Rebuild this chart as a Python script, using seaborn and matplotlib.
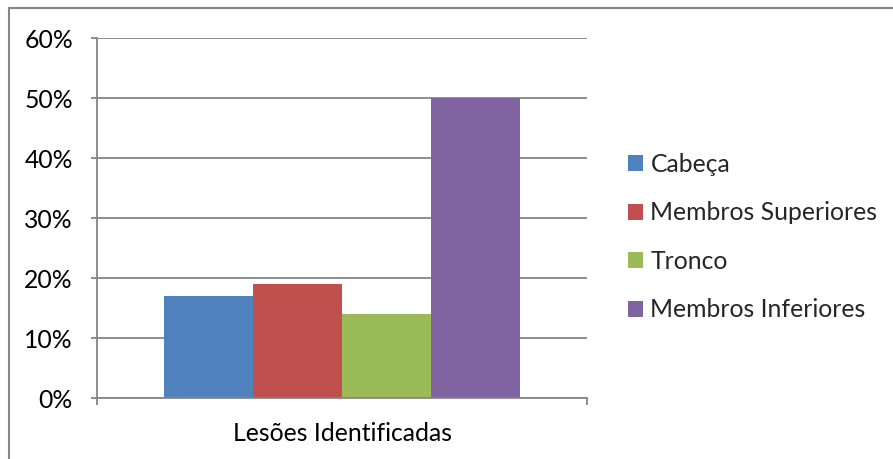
import matplotlib
matplotlib.use("Agg")
import matplotlib.pyplot as plt
from matplotlib.lines import Line2D
from matplotlib.ticker import FixedLocator, PercentFormatter
import seaborn as sns
import pandas as pd

# Data
group_label = "Lesões Identificadas"
regions = ["Cabeça", "Membros Superiores", "Tronco", "Membros Inferiores"]
shares = [0.17, 0.19, 0.14, 0.50]
colors = ["#4F81BD", "#C0504D", "#9BBB59", "#8064A2"]
y_ticks = [0.0, 0.1, 0.2, 0.3, 0.4, 0.5, 0.6]

df = pd.DataFrame({"grupo": [group_label] * len(regions),
                   "regiao": regions,
                   "valor": shares})

sns.set_theme(style="white")
plt.rcParams["font.family"] = ["Lato", "DejaVu Sans"]
grid_col = "#868686"
fs = 17.8

fig = plt.figure(figsize=(8.93, 4.59), dpi=100)
ax = fig.add_axes([97 / 893, 61 / 459, 490 / 893, 360 / 459])

sns.barplot(data=df, x="grupo", y="valor", hue="regiao", hue_order=regions,
            palette=colors, width=0.725, saturation=1, ax=ax, legend=True,
            edgecolor="none", linewidth=0)

ax.set_xlim(-0.5, 0.5)
ax.set_ylim(0, 0.6)
ax.set_xlabel("")
ax.set_ylabel("")

ax.yaxis.set_major_locator(FixedLocator(y_ticks))
ax.yaxis.set_major_formatter(PercentFormatter(1.0, decimals=0))
ax.yaxis.grid(True, color=grid_col, linewidth=1.3)
ax.set_axisbelow(True)

for side in ["top", "right"]:
    ax.spines[side].set_visible(False)
for side in ["left", "bottom"]:
    ax.spines[side].set_color(grid_col)
    ax.spines[side].set_linewidth(1.3)

ax.tick_params(axis="y", which="major", direction="out", length=4.3, width=1.3,
               color=grid_col, pad=13, labelsize=fs, labelcolor="black", left=True)
ax.xaxis.set_minor_locator(FixedLocator([-0.5, 0.5]))
ax.tick_params(axis="x", which="minor", direction="out", length=5, width=1.3,
               color=grid_col, bottom=True)
ax.tick_params(axis="x", which="major", length=0, pad=17.5, labelsize=fs,
               labelcolor="black")

# Legend to the right of the plot
handles, labels = ax.get_legend_handles_labels()
ax.legend(handles, labels, loc="upper left", bbox_to_anchor=(628 / 893, 1 - 153 / 459),
          bbox_transform=fig.transFigure, frameon=False, fontsize=fs,
          handlelength=0.61, handleheight=0.61, handletextpad=0.3,
          labelspacing=1.03, borderaxespad=0, borderpad=0)

# Chart area border (top and left edges)
fig.add_artist(Line2D([9 / 893, 1.0], [1 - 8 / 459, 1 - 8 / 459],
                      transform=fig.transFigure, color=grid_col, linewidth=1.5))
fig.add_artist(Line2D([9 / 893, 9 / 893], [0.0, 1 - 8 / 459],
                      transform=fig.transFigure, color=grid_col, linewidth=1.5))

fig.savefig("out.png", dpi=100)
